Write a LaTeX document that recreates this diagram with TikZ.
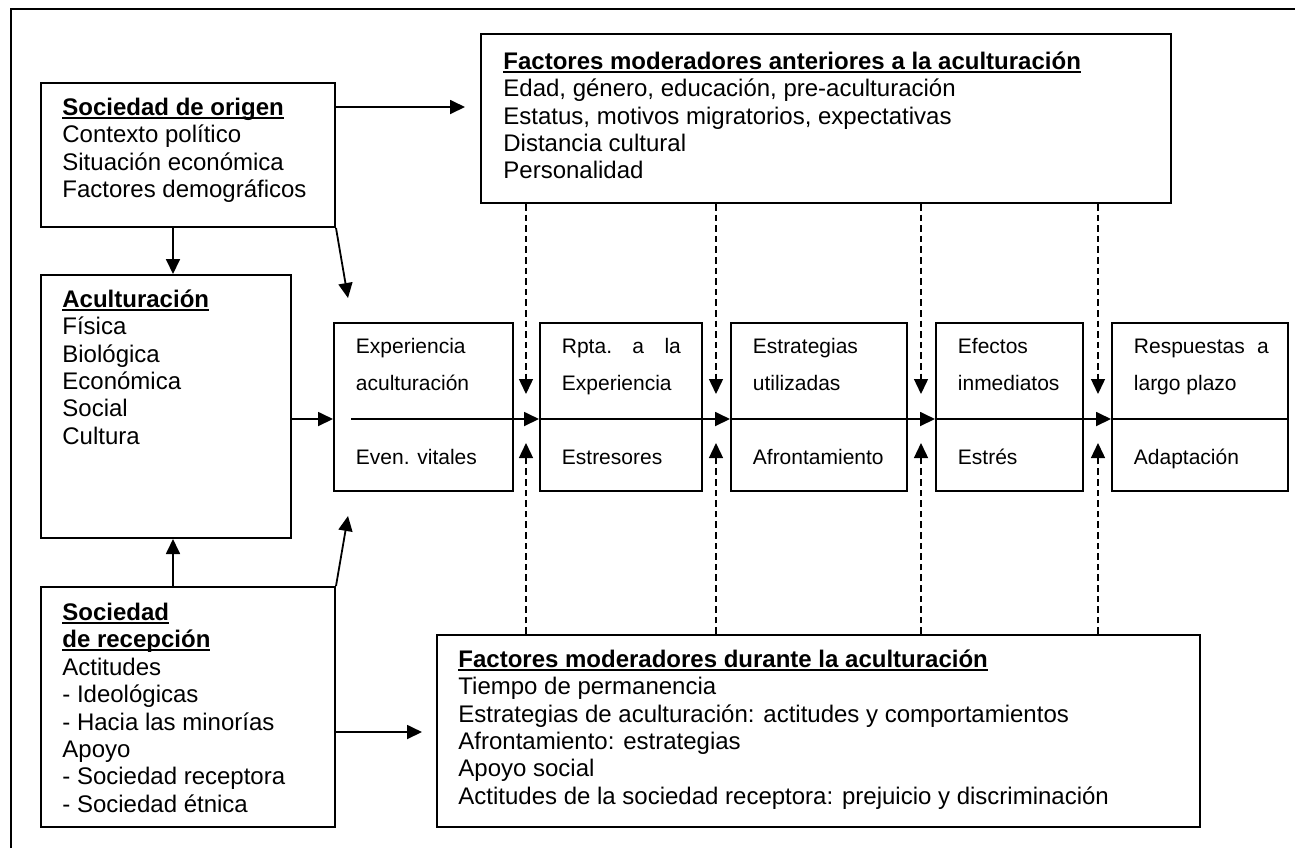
\documentclass[tikz,border=0pt]{standalone}
\usepackage{fontspec}
\setmainfont{Liberation Sans}
\usepackage{tikz}
\usetikzlibrary{arrows.meta,positioning}
\newcommand{\subr}[1]{\setbox0=\hbox{#1}\rlap{\rule[-1.8pt]{\wd0}{1.1pt}}\box0}
\tikzset{caja/.style={draw,line width=1pt,inner sep=0pt}}
\tikzset{txt/.style={anchor=north west,inner sep=0pt,align=left,font=\fontsize{12}{13.7}\selectfont}}
\tikzset{etapa/.style={anchor=north west,inner sep=0pt,align=left,font=\fontsize{10.5}{18.5}\selectfont}}
\tikzset{flecha/.style={-{Triangle[length=7.5pt,width=7pt]},line width=0.9pt}}
\tikzset{punteada/.style={flecha,line width=0.7pt,dash pattern=on 3.3pt off 2pt}}

\begin{document}
\begin{tikzpicture}[x=0.5pt,y=-0.5pt]
        \useasboundingbox (0,0) rectangle (1295,848);
        \draw [line width=0.9pt] (11,848) -- (11,9) -- (1295,9);

        \node[caja,minimum width=147pt,minimum height=72pt] (origen) at (188,155) {};
        \node[caja,minimum width=125pt,minimum height=131.5pt] (acult) at (166,406.5) {};
        \node[caja,minimum width=147pt,minimum height=120pt] (recep) at (188,707) {};
        \node[caja,minimum width=345pt,minimum height=84.5pt] (factA) at (826,118.5) {};
        \node[caja,minimum width=381.5pt,minimum height=96pt] (factD) at (818.5,731) {};
        \node[caja,minimum width=89.5pt,minimum height=84pt] (e1) at (423.5,407) {};
        \node[caja,minimum width=81pt,minimum height=84pt] (e2) at (621,407) {};
        \node[caja,minimum width=88pt,minimum height=84pt] (e3) at (819,407) {};
        \node[caja,minimum width=73.5pt,minimum height=84pt] (e4) at (1009.5,407) {};
        \node[caja,minimum width=88pt,minimum height=84pt] (e5) at (1200,407) {};

        \node[txt] (torigen) at (62,95.8) {\strut\subr{\textbf{Sociedad de origen}}\\Contexto político\\Situación económica\\Factores demográficos};
        \node[txt] (tacult) at (62,287.8) {\strut\subr{\textbf{Aculturación}}\\Física\\Biológica\\Económica\\Social\\Cultura};
        \node[txt] (trecep) at (62,600.8) {\strut\subr{\textbf{Sociedad}}\\\subr{\textbf{de recepción}}\\Actitudes\\- Ideológicas\\- Hacia las minorías\\Apoyo\\- Sociedad receptora\\- Sociedad étnica};
        \node[txt] (tfactA) at (503,49.8) {\strut\subr{\textbf{Factores moderadores anteriores a la aculturación}}\\Edad, género, educación, pre-aculturación\\Estatus, motivos migratorios, expectativas\\Distancia cultural\\Personalidad};
        \node[txt] (tfactD) at (458,647.8) {\strut\subr{\textbf{Factores moderadores durante la aculturación}}\\Tiempo de permanencia\\Estrategias de aculturación: actitudes y comportamientos\\Afrontamiento: estrategias\\Apoyo social\\Actitudes de la sociedad receptora: prejuicio y discriminación};

        \node[etapa] (e1s) at (355.5,327.1) {\strut Experiencia\\aculturación};
        \node[etapa] (e1i) at (355.5,438.1) {\strut Even. vitales};
        \node[etapa] (e2s) at (561.5,327.1) {\strut\hbox to 59.5pt{Rpta.\hfill a\hfill la}\\Experiencia};
        \node[etapa] (e2i) at (561.5,438.1) {\strut Estresores};
        \node[etapa] (e3s) at (752.5,327.1) {\strut Estrategias\\utilizadas};
        \node[etapa] (e3i) at (752.5,438.1) {\strut Afrontamiento};
        \node[etapa] (e4s) at (957.5,327.1) {\strut Efectos\\inmediatos};
        \node[etapa] (e4i) at (957.5,438.1) {\strut Estrés};
        \node[etapa] (e5s) at (1133.5,327.1) {\strut\hbox to 67.5pt{Respuestas\hfill a}\\largo plazo};
        \node[etapa] (e5i) at (1133.5,438.1) {\strut Adaptación};

        \coordinate (xa) at (173,0);
        \coordinate (ya) at (0,107);
        \coordinate (yb) at (0,732);
        \coordinate (ym) at (0,419);
        \coordinate (m0) at (351,419);
        \coordinate (p1) at (348,298);
        \coordinate (p2) at (348,516);
        \coordinate (d1) at (526,394);
        \coordinate (d2) at (716,394);
        \coordinate (d3) at (921,394);
        \coordinate (d4) at (1098,394);
        \coordinate (u1) at (526,443);
        \coordinate (u2) at (716,443);
        \coordinate (u3) at (921,443);
        \coordinate (u4) at (1098,443);

        \draw [flecha,shorten >=7.5pt] (origen.east |- ya) to [] (factA.west |- ya);
        \draw [flecha] (origen.south -| xa) to [] (acult.north -| xa);
        \draw [flecha] (origen.south east) to [] (p1);
        \draw [flecha] (recep.north -| xa) to [] (acult.south -| xa);
        \draw [flecha] (recep.north east) to [] (p2);
        \draw [flecha,shorten >=7pt] (recep.east |- yb) to [] (factD.west |- yb);
        \draw [flecha] (acult.east |- ym) to [] (e1.west |- ym);
        \draw [flecha] (m0) to [] (e2.west |- ym);
        \draw [flecha] (e2.west |- ym) to [] (e3.west |- ym);
        \draw [flecha] (e3.west |- ym) to [] (e4.west |- ym);
        \draw [flecha] (e4.west |- ym) to [] (e5.west |- ym);
        \draw [line width=0.9pt] (e5.west |- ym) to [] (e5.east |- ym);

        \draw [punteada] (factA.south -| d1) to [] (d1);
        \draw [punteada] (factA.south -| d2) to [] (d2);
        \draw [punteada] (factA.south -| d3) to [] (d3);
        \draw [punteada] (factA.south -| d4) to [] (d4);
        \draw [punteada] (factD.north -| u1) to [] (u1);
        \draw [punteada] (factD.north -| u2) to [] (u2);
        \draw [punteada] (factD.north -| u3) to [] (u3);
        \draw [punteada] (factD.north -| u4) to [] (u4);
\end{tikzpicture}
\end{document}
